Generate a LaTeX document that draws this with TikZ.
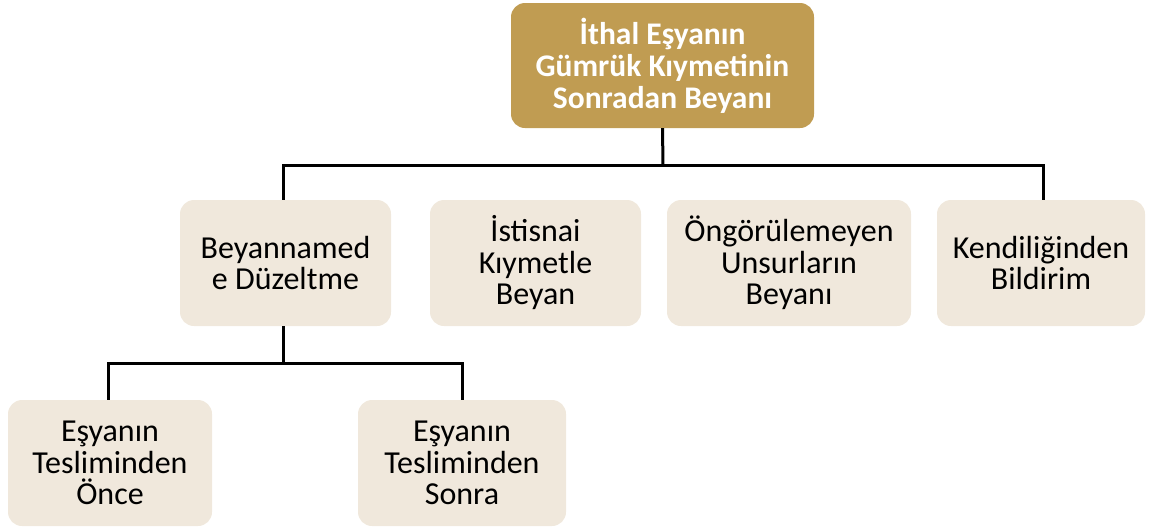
\documentclass[tikz,border=0pt]{standalone}
\usepackage{fontspec}
\setmainfont{Carlito}
\definecolor{gold}{HTML}{C09C52}
\definecolor{cream}{HTML}{F0E8DC}
\begin{document}
\begin{tikzpicture}[x=1pt,y=-1pt,
  box/.style={rounded corners=14pt, inner sep=0pt, align=center,
    font=\fontsize{32}{31.5}\selectfont},
  lbox/.style={box, fill=cream, text=black},
  conn/.style={line width=3pt, black}]
\useasboundingbox (0,0) rectangle (1153,528);
\node[box, fill=gold, text=white, font=\bfseries\fontsize{31.5}{32}\selectfont,
  minimum width=303pt, minimum height=125pt] (top) at (662.5,65.5)
  {İthal Eşyanın\\Gümrük Kıymetinin\\Sonradan Beyanı};
\node[lbox, minimum width=211pt, minimum height=126pt] (b1) at (285.5,263) {Beyannamed\\e Düzeltme};
\node[lbox, minimum width=211pt, minimum height=126pt] (b2) at (535.5,263) {İstisnai\\Kıymetle\\Beyan};
\node[lbox, minimum width=244pt, minimum height=126pt] (b3) at (789,263) {Öngörülemeyen\\Unsurların\\Beyanı};
\node[lbox, minimum width=208pt, minimum height=126pt] (b4) at (1041,263) {Kendiliğinden\\Bildirim};
\node[lbox, minimum width=204pt, minimum height=126pt] (c1) at (110,463) {Eşyanın\\Tesliminden\\Önce};
\node[lbox, minimum width=208pt, minimum height=126pt] (c2) at (462,463) {Eşyanın\\Tesliminden\\Sonra};
\coordinate (j1) at (663,165);
\coordinate (j2) at (283,363);
\draw[conn] (top.south) -- (j1);
\draw[conn] ([xshift=-2.5pt]b1.north) -- ([xshift=-2.5pt]b1.north |- j1) -- ([xshift=2pt]b4.north |- j1) -- ([xshift=2pt]b4.north);
\draw[conn] ([xshift=-2.5pt]b1.south) -- (j2);
\draw[conn] ([xshift=-2pt]c1.north) -- ([xshift=-2pt]c1.north |- j2) -- (c2.north |- j2) -- (c2.north);
\end{tikzpicture}
\end{document}
